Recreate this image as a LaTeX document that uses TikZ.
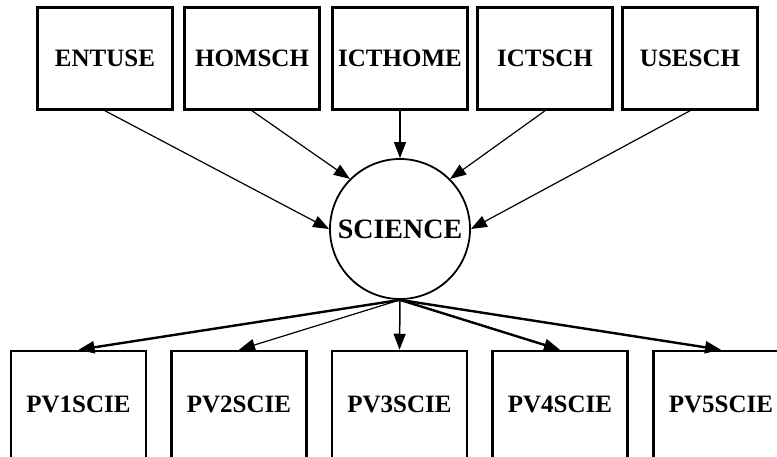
\documentclass[tikz,border=0pt]{standalone}
\usepackage{fontspec}
\setmainfont{Liberation Serif}
\usetikzlibrary{arrows.meta}
\begin{document}
\begin{tikzpicture}[x=1pt,y=-1pt]
		\tikzstyle{fleche}=[-{Triangle[length=16pt,width=12pt]},line width=1.2pt]
		\tikzstyle{grosse}=[line width=2.4pt]
		\tikzstyle{boite}=[draw,line width=2.5pt,minimum width=135pt,minimum height=102pt,inner sep=0pt,font=\bfseries\fontsize{25}{30}\selectfont]
		\tikzstyle{latente}=[draw,circle,line width=1.8pt,minimum size=140pt,inner sep=0pt,font=\bfseries\fontsize{28}{32}\selectfont]
		
		\def\LigneHaut{58.5}
		\def\LigneMilieu{229}
		\def\LigneBas{404.5}
		
		\clip (0,0) rectangle (777,456);
		
		\node[boite] (ENTUSE) at (105,\LigneHaut) {ENTUSE};
		\node[boite] (HOMSCH) at (252,\LigneHaut) {HOMSCH};
		\node[boite] (ICTHOME) at (400,\LigneHaut) {ICTHOME};
		\node[boite] (ICTSCH) at (545,\LigneHaut) {ICTSCH};
		\node[boite] (USESCH) at (690,\LigneHaut) {USESCH};
		
		\node[latente] (SCIENCE) at (400,\LigneMilieu) {SCIENCE};
		
		\node[boite,minimum height=107pt] (PVa) at (78.5,\LigneBas) {PV1SCIE};
		\node[boite,minimum height=107pt] (PVb) at (239,\LigneBas) {PV2SCIE};
		\node[boite,minimum height=107pt] (PVc) at (399.5,\LigneBas) {PV3SCIE};
		\node[boite,minimum height=107pt] (PVd) at (560,\LigneBas) {PV4SCIE};
		\node[boite,minimum height=107pt] (PVe) at (721,\LigneBas) {PV5SCIE};
		
		\draw[fleche] (ENTUSE.south)--(SCIENCE.west);
		\draw[fleche] (HOMSCH.south)--(SCIENCE.north west);
		\draw[fleche] (ICTHOME.south)--(SCIENCE.north);
		\draw[fleche] (ICTSCH.south)--(SCIENCE.north east);
		\draw[fleche] (USESCH.south)--(SCIENCE.east);
		
		\draw[fleche,grosse] (SCIENCE.south)--(PVa.north);
		\draw[fleche] (SCIENCE.south)--(PVb.north);
		\draw[fleche,line width=1.5pt] (SCIENCE.south)--(PVc.north);
		\draw[fleche,grosse] (SCIENCE.south)--(PVd.north);
		\draw[fleche,grosse] (SCIENCE.south)--(PVe.north);
		\end{tikzpicture}
\end{document}
